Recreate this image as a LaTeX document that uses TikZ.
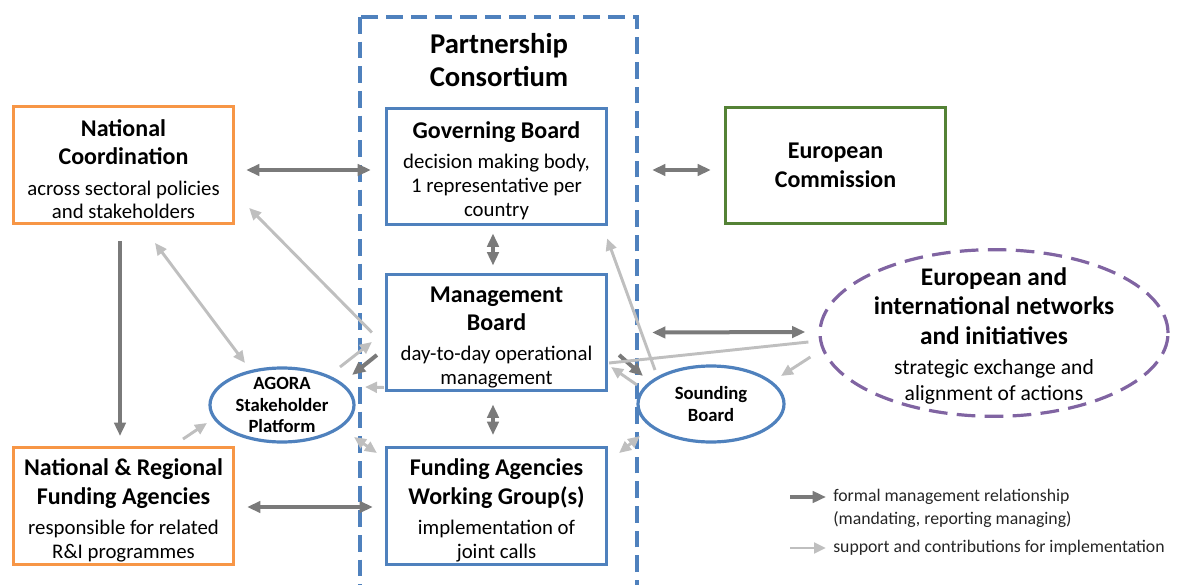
\documentclass[tikz,border=0pt]{standalone}
\usepackage{fontspec}
\setmainfont{Carlito}
\usepackage{tikz}
\usetikzlibrary{arrows.meta, shapes.geometric}
\definecolor{cblue}{RGB}{79,129,189}
\definecolor{corange}{RGB}{247,150,70}
\definecolor{cgreen}{RGB}{84,130,53}
\definecolor{cpurple}{RGB}{128,100,162}
\definecolor{adark}{RGB}{122,122,122}
\definecolor{alight}{RGB}{191,191,191}
\tikzset{
  box/.style={draw=#1, line width=2.4pt, minimum width=165pt, minimum height=87.5pt,
    align=center, inner sep=2pt, font=\fontsize{15.6}{17.8}\selectfont},
  oval/.style={ellipse, draw=cblue, line width=2.4pt, inner sep=0pt},
  ovaltext/.style={align=center, font=\fontsize{14}{15.8}\selectfont\bfseries},
  darr/.style={color=adark, line width=3pt, >={Triangle[length=10pt,width=8.5pt]}},
  larr/.style={color=alight, line width=2.2pt, >={Triangle[length=9pt,width=8pt]}},
}
\newcommand{\hd}[1]{{\fontsize{18}{21}\selectfont\bfseries #1}}
\newcommand{\up}{\rule{0pt}{19pt}}
\begin{document}
\begin{tikzpicture}[x=0.75pt, y=-0.75pt]
\clip (0,0) rectangle (1182,585);
% partnership consortium
\draw[cblue, line width=2.5pt, dash pattern=on 12.5pt off 6pt] (360,17) rectangle (637,600);
\node[align=center, font=\fontsize{21.5}{24.8}\selectfont\bfseries] (pc) at (499,60)
  {Partnership\\Consortium};
\node[box=cblue] (gov) at (496.5,166.5)
  {\up\hd{Governing Board}\\[5pt] decision making body,\\ 1 representative per\\ country};
\node[box=cblue] (mgmt) at (496.5,332.5)
  {\up\hd{Management}\\[3.5pt] \hd{Board}\\[5pt] day-to-day operational\\ management};
\node[box=cblue] (fwg) at (496.5,506)
  {\up\hd{Funding Agencies}\\[3.5pt] \hd{Working Group(s)}\\[5pt] implementation of\\ joint calls};
% outside actors
\node[box=corange] (natc) at (123.5,165)
  {\up\hd{National}\\[3.5pt] \hd{Coordination}\\[5pt] across sectoral policies\\ and stakeholders};
\node[box=corange] (nra) at (123.5,506)
  {\up\hd{National \& Regional}\\[3.5pt] \hd{Funding Agencies}\\[5pt] responsible for related\\ R\&I programmes};
\node[box=cgreen] (ec) at (835.5,165.5) {\hd{European}\\[3.5pt] \hd{Commission}};
\node[ellipse, draw=cpurple, line width=2.4pt, dash pattern=on 14pt off 7pt,
  minimum width=261pt, minimum height=125pt] (net) at (994,333) {};
\node[align=center, font=\fontsize{16.2}{19.5}\selectfont] (nett) at ([yshift=-2pt]net.center)
  {{\fontsize{19}{21.8}\selectfont\bfseries European and}\\[2.5pt]
   {\fontsize{19}{21.8}\selectfont\bfseries international networks}\\[2.5pt]
   {\fontsize{19}{21.8}\selectfont\bfseries and initiatives}\\[3pt]
   strategic exchange and\\ alignment of actions};
\node[oval, minimum width=108pt, minimum height=55.5pt] (agora) at (282,405) {};
\node[ovaltext] (agorat) at (agora.center) {AGORA\\ Stakeholder\\ Platform};
\node[oval, minimum width=109.5pt, minimum height=57pt] (sound) at (711,404) {};
\node[ovaltext] (soundt) at (sound.center) {Sounding\\ Board};
% formal relations
\path[darr, <->]
([shift={(11,5)}]natc.east) edge ([shift={(-14,3.5)}]gov.west)
([shift={(44,3.5)}]gov.east) edge ([shift={(-13,4.5)}]ec.west)
([shift={(-3.5,7)}]gov.south) edge ([shift={(-3.5,-7)}]mgmt.north)
([shift={(-3.5,12)}]mgmt.south) edge ([shift={(-3.5,-11)}]fwg.north)
([shift={(12,1)}]nra.east) edge ([shift={(-12,1)}]fwg.west)
([shift={(44,0)}]mgmt.east) edge ([shift={(-13,-1)}]net.west)
;
\path[darr, ->]
([shift={(-3.5,16)}]natc.south) edge ([shift={(-3.5,-10)}]nra.north)
([shift={(-8,22.5)}]mgmt.west) edge ([shift={(70,-30)}]agora.center)
([shift={(11,22.5)}]mgmt.east) edge ([shift={(-68,-28)}]sound.center)
;
% support relations
\path[larr, ->]
([shift={(-13,0)}]mgmt.west) edge ([shift={(14,-17)}]natc.south east)
([shift={(58,-38)}]agora.center) edge ([shift={(-13,9.5)}]mgmt.west)
([shift={(-1,-5)}]mgmt.south west) edge ([shift={(83,-18)}]agora.center)
([shift={(59.5,-7)}]nra.north) edge ([shift={(-75,18)}]agora.center)
([shift={(-56,-34)}]sound.center) edge ([shift={(-1,12)}]gov.south east)
([shift={(-74,-19)}]sound.center) edge ([shift={(3,34.5)}]mgmt.east)
([shift={(-8,24)}]net.west) edge ([shift={(70,-28)}]sound.center)
;
\path[larr, <->]
([shift={(31.5,18)}]natc.south) edge ([shift={(-37,-42)}]agora.center)
([shift={(72,32)}]agora.center) edge ([shift={(-8,7)}]fwg.north west)
([shift={(-71,32)}]sound.center) edge ([shift={(11,7)}]fwg.north east)
;
\path[larr]
([shift={(-10,9)}]net.west) edge ([shift={(1,30.5)}]mgmt.east);
% legend
\coordinate (lg1) at (790,497);
\coordinate (lg1e) at (826,497);
\coordinate (lg2) at (790,548);
\coordinate (lg2e) at (826,548);
\path[darr, ->] (lg1) edge (lg1e);
\path[larr, ->] (lg2) edge (lg2e);
\node[anchor=west, align=left, inner sep=0pt, text=black!85, font=\fontsize{13.3}{17}\selectfont]
  (leg1) at (833,508.5) {formal management relationship\\ (mandating, reporting managing)};
\node[anchor=west, inner sep=0pt, text=black!85, font=\fontsize{13.3}{17}\selectfont]
  (leg2) at (833,548) {support and contributions for implementation};
\end{tikzpicture}
\end{document}
